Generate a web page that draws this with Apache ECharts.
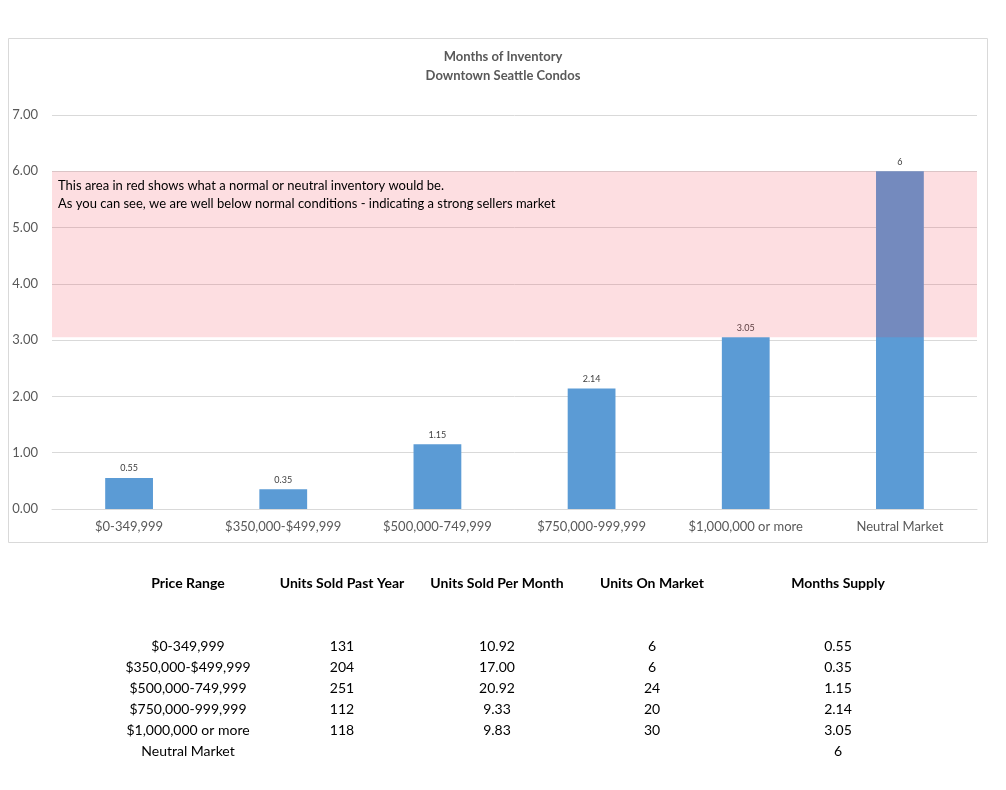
<!DOCTYPE html>
<html>
<head>
<meta charset="utf-8">
<title>Months of Inventory</title>
<script src="https://cdn.jsdelivr.net/npm/echarts@6/dist/echarts.min.js"></script>
<style>
  html, body { margin: 0; padding: 0; background: #fff; }
  #chart { width: 1006px; height: 790px; }
</style>
</head>
<body>
<div id="chart"></div>
<script>
// categories and values
var categories = ['$0-349,999', '$350,000-$499,999', '$500,000-749,999', '$750,000-999,999', '$1,000,000 or more', 'Neutral Market'];
var monthsSupply = [0.55, 0.35, 1.15, 2.14, 3.05, 6];
var unitsPastYear = [131, 204, 251, 112, 118, null];
var unitsPerMonth = [10.92, 17.00, 20.92, 9.33, 9.83, null];
var unitsOnMarket = [6, 6, 24, 20, 30, null];
var yTicks = [0, 1, 2, 3, 4, 5, 6, 7];
var bandRange = [3.05, 6];
var tableHeaders = ['Price Range', 'Units Sold Past Year', 'Units Sold Per Month', 'Units On Market', 'Months Supply'];

var FONT = 'Lato, "Open Sans", sans-serif';
var myChart = echarts.init(document.getElementById('chart'));

// table under the chart, built as text elements
var colX = [188, 342, 497, 652, 838];
var graphics = [{
    type: 'rect',
    shape: { x: 8.5, y: 38.5, width: 979, height: 504 },
    style: { fill: 'none', stroke: '#d9d9d9', lineWidth: 1 },
    silent: true
}];
tableHeaders.forEach(function (h, i) {
    graphics.push({
        type: 'text', x: colX[i], y: 583,
        style: { text: h, font: 'bold 14px ' + FONT, fill: '#000', align: 'center', verticalAlign: 'middle' }
    });
});
categories.forEach(function (c, r) {
    var row = [
        c,
        unitsPastYear[r] == null ? '' : String(unitsPastYear[r]),
        unitsPerMonth[r] == null ? '' : unitsPerMonth[r].toFixed(2),
        unitsOnMarket[r] == null ? '' : String(unitsOnMarket[r]),
        String(monthsSupply[r])
    ];
    row.forEach(function (t, i) {
        graphics.push({
            type: 'text', x: colX[i], y: 646 + r * 21,
            style: { text: t, font: '14px ' + FONT, fill: '#000', align: 'center', verticalAlign: 'middle' }
        });
    });
});

var option = {
    animation: false,
    title: {
        text: 'Months of Inventory\nDowntown Seattle Condos',
        left: 'center',
        top: 42,
        textStyle: { fontFamily: FONT, fontSize: 13, fontWeight: 'bold', color: '#595959', lineHeight: 19 }
    },
    grid: { left: 52, right: 29, top: 115, bottom: 281 },
    xAxis: {
        type: 'category',
        data: categories,
        axisLine: { lineStyle: { color: '#d9d9d9' } },
        axisTick: { show: false },
        axisLabel: { fontFamily: FONT, fontSize: 13, color: '#595959', margin: 11 }
    },
    yAxis: {
        type: 'value',
        min: yTicks[0],
        max: yTicks[yTicks.length - 1],
        interval: 1,
        axisLine: { show: false },
        axisTick: { show: false },
        splitLine: { lineStyle: { color: '#d9d9d9' } },
        axisLabel: {
            fontFamily: FONT, fontSize: 13, color: '#595959', margin: 14,
            formatter: function (v) { return v.toFixed(2); }
        }
    },
    series: [{
        name: 'Months Supply',
        type: 'bar',
        data: monthsSupply,
        barWidth: '31%',
        itemStyle: { color: '#5b9bd5' },
        label: {
            show: true, position: 'top', distance: 5,
            fontFamily: FONT, fontSize: 9, color: '#404040',
            formatter: '{c}'
        },
        markArea: {
            silent: true,
            z: 10,
            itemStyle: { color: 'rgba(243,61,78,0.17)' },
            label: {
                show: true,
                position: 'insideTopLeft',
                distance: 6,
                fontFamily: FONT, fontSize: 13, color: '#000', lineHeight: 18,
                formatter: 'This area in red shows what a normal or neutral inventory would be.\nAs you can see, we are well below normal conditions - indicating a strong sellers market'
            },
            data: [[{ yAxis: bandRange[0] }, { yAxis: bandRange[1] }]]
        }
    }],
    graphic: graphics
};
myChart.setOption(option);
</script>
</body>
</html>
